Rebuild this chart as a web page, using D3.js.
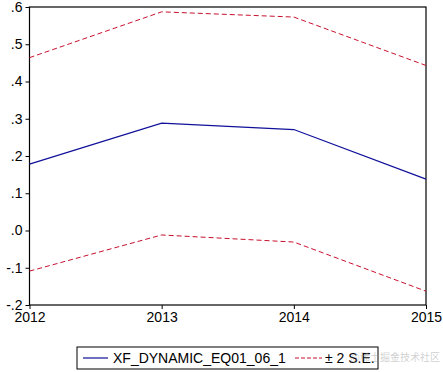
<!DOCTYPE html>
<html>
<head>
<meta charset="utf-8">
<script src="https://cdn.jsdelivr.net/npm/d3@7"></script>
<style>
  body { margin: 0; background: #fff; }
  svg { display: block; font-family: "Liberation Sans", Arial, sans-serif; }
</style>
</head>
<body>
<div id="chart"></div>
<script>
// forecast values
const years = [2012, 2013, 2014, 2015];
const forecast = [0.178, 0.288, 0.271, 0.138];
const upperBand = [0.464, 0.587, 0.573, 0.443];
const lowerBand = [-0.109, -0.012, -0.031, -0.163];
const yTicks = [-0.2, -0.1, 0.0, 0.1, 0.2, 0.3, 0.4, 0.5, 0.6];
const yTickLabels = ["-.2", "-.1", ".0", ".1", ".2", ".3", ".4", ".5", ".6"];
const legendLabels = ["XF_DYNAMIC_EQ01_06_1", "\u00b1 2 S.E."];

const width = 443, height = 372;
const margin = { top: 7, right: 17, bottom: 67, left: 29.5 };

const svg = d3.select("#chart")
  .append("svg")
  .attr("width", width)
  .attr("height", height);

const x = d3.scaleLinear()
  .domain(d3.extent(years))
  .range([margin.left, width - margin.right]);

const y = d3.scaleLinear()
  .domain([-0.2, 0.6])
  .range([height - margin.bottom, margin.top]);

// frame
svg.append("rect")
  .attr("x", x(2012))
  .attr("y", y(0.6))
  .attr("width", x(2015) - x(2012))
  .attr("height", y(-0.2) - y(0.6))
  .attr("fill", "none")
  .attr("stroke", "#000")
  .attr("stroke-width", 1.2);

// y axis
const yAxis = svg.append("g")
  .attr("transform", `translate(${x(2012)},0)`)
  .call(d3.axisLeft(y)
    .tickValues(yTicks)
    .tickSize(4)
    .tickPadding(3)
    .tickFormat((d, i) => yTickLabels[i]));
yAxis.select(".domain").remove();
yAxis.selectAll("text")
  .style("font-size", "14px")
  .style("font-family", "'Liberation Sans', Arial, sans-serif")
  .attr("fill", "#000");
yAxis.selectAll("line").attr("stroke", "#000");

// x axis
const xAxis = svg.append("g")
  .attr("transform", `translate(0,${y(-0.2)})`)
  .call(d3.axisBottom(x)
    .tickValues(years)
    .tickSize(4)
    .tickPadding(3)
    .tickFormat(d3.format("d")));
xAxis.select(".domain").remove();
xAxis.selectAll("text")
  .style("font-size", "14px")
  .style("font-family", "'Liberation Sans', Arial, sans-serif")
  .attr("fill", "#000");
xAxis.selectAll("line").attr("stroke", "#000");

const line = d3.line()
  .x((d, i) => x(years[i]))
  .y(d => y(d));

const red = "#c8102e";
const blue = "#10109a";

[upperBand, lowerBand].forEach(band => {
  svg.append("path")
    .datum(band)
    .attr("d", line)
    .attr("fill", "none")
    .attr("stroke", red)
    .attr("stroke-width", 1)
    .attr("stroke-dasharray", "5,3");
});

svg.append("path")
  .datum(forecast)
  .attr("d", line)
  .attr("fill", "none")
  .attr("stroke", blue)
  .attr("stroke-width", 1.2);

// legend
const legend = svg.append("g");
legend.append("rect")
  .attr("x", 77)
  .attr("y", 347)
  .attr("width", 301)
  .attr("height", 22)
  .attr("fill", "#fff")
  .attr("stroke", "#000")
  .attr("stroke-width", 1);

legend.append("line")
  .attr("x1", 83).attr("x2", 108)
  .attr("y1", 358).attr("y2", 358)
  .attr("stroke", blue)
  .attr("stroke-width", 1.2);

legend.append("text")
  .attr("x", 113)
  .attr("y", 358)
  .attr("dy", "0.35em")
  .style("font-size", "14px")
  .text(legendLabels[0]);

legend.append("line")
  .attr("x1", 295).attr("x2", 322)
  .attr("y1", 358).attr("y2", 358)
  .attr("stroke", red)
  .attr("stroke-width", 1)
  .attr("stroke-dasharray", "4,2");

legend.append("text")
  .attr("x", 325)
  .attr("y", 358)
  .attr("dy", "0.35em")
  .style("font-size", "14px")
  .text(legendLabels[1]);

// watermark
svg.append("text")
  .attr("x", 440)
  .attr("y", 361)
  .attr("text-anchor", "end")
  .style("font-family", "'Noto Sans CJK SC', sans-serif")
  .style("font-size", "10px")
  .attr("fill", "rgba(150,150,150,0.45)")
  .text("@稀土掘金技术社区");
</script>
</body>
</html>
